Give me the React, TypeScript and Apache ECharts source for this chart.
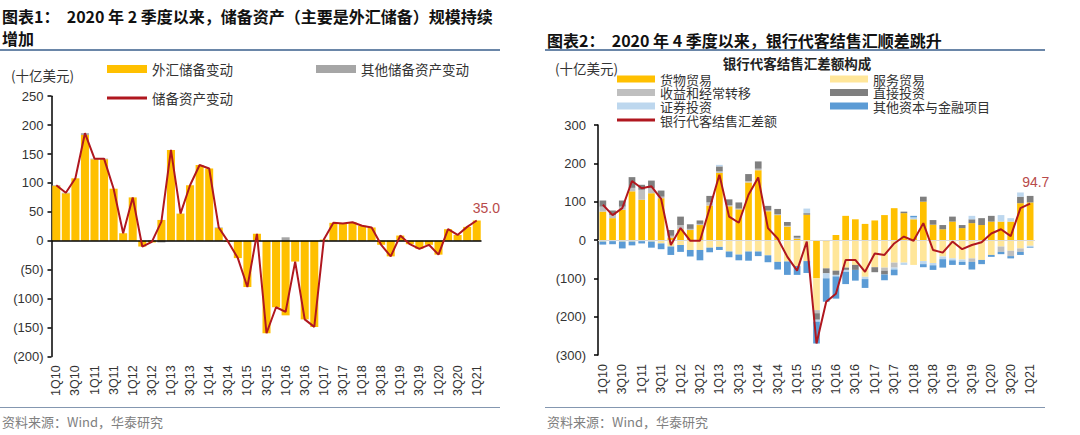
import React, { useEffect, useRef } from "react";
import * as echarts from "echarts";

const quarters = [
  "1Q10","2Q10","3Q10","4Q10","1Q11","2Q11","3Q11","4Q11","1Q12","2Q12","3Q12","4Q12",
  "1Q13","2Q13","3Q13","4Q13","1Q14","2Q14","3Q14","4Q14","1Q15","2Q15","3Q15","4Q15",
  "1Q16","2Q16","3Q16","4Q16","1Q17","2Q17","3Q17","4Q17","1Q18","2Q18","3Q18","4Q18",
  "1Q19","2Q19","3Q19","4Q19","1Q20","2Q20","3Q20","4Q20","1Q21",
];

// Chart 1: reserve assets (billion USD)
const fxReserveChange = [
  95, 82, 108, 183, 141, 141, 90, 13, 75, -10, -3, 36,
  157, 47, 96, 131, 125, 22, -2, -30, -80, 12, -160, -115,
  -129, -36, -136, -149, 2, 31, 30, 32, 26, 23, -7, -27,
  9, -6, -14, -7, -24, 20, 10, 24, 35,
];
const otherReserveChange = [
  1, 1, 0, 3, 1, 1, 0, 0, 0, 0, 1, -3,
  0, 0, 0, 0, 0, 1, 0, 0, 0, 0, 0, 0,
  6, 0, 0, 0, 0, 0, 0, 0, 0, 0, 0, 0,
  0, 0, 0, 0, 0, 0, 0, 0, 0,
];
const reserveAssetChange = [
  96, 83, 108, 186, 142, 142, 90, 13, 75, -10, -2, 33,
  157, 47, 96, 131, 125, 23, -2, -30, -80, 12, -160, -115,
  -123, -36, -136, -149, 2, 31, 30, 32, 26, 23, -7, -27,
  9, -6, -14, -7, -24, 20, 10, 24, 35.0,
];
const yTicks1 = { min: -200, max: 250, interval: 50 };

// Chart 2: bank FX settlement balance components (billion USD)
const goodsTrade = [
  74, 57, 79, 127, 105, 122, 109, 6, 28, 26, 39, 90,
  175, 88, 80, 150, 182, 75, 65, 35, 3, 66, -100, -4,
  13, 63, 54, 42, 51, 65, 83, 70, 54, 100, 40, 28,
  48, 31, 44, 39, 48, 48, 48, 96, 98,
];
const servicesTrade = [
  -4, -3, -4, -4, -3, -4, -9, -17, -13, -26, -26, -20,
  -18, -30, -38, -30, -30, -40, -57, -56, -68, -55, -83, -70,
  -80, -72, -65, -96, -71, -72, -59, -59, -65, -55, -60, -43,
  -48, -51, -48, -52, -39, -17, -28, -22, -15,
];
const incomeTransfers = [
  13, 8, 8, 9, 26, 13, 4, 5, 11, 3, 3, 8,
  4, 3, 2, 4, 4, 2, 2, 2, 3, 0, -8, 0,
  0, 0, 0, 0, 0, -8, -13, 0, 0, 0, 0, 0,
  0, 0, -9, 0, 0, -14, -14, -9, 0,
];
const directInvestment = [
  16, 12, 16, 28, 13, 20, 16, 15, 22, 12, 9, 17,
  13, 15, 16, 18, 19, 12, 14, 10, 5, 4, -17, -13,
  -11, -6, -13, 0, -13, -10, 0, 4, 0, 13, 12, 11,
  13, 8, 10, 18, 15, 0, 0, 17, 17,
];
const portfolioInvestment = [
  0, 0, 0, 0, 0, 0, 0, 0, 0, 0, 0, 0,
  4, 0, 0, 0, 0, 0, 0, 0, 0, 12, -5, -13,
  -4, -5, 0, -6, 0, 0, -5, -6, 5, -8, -6, -7,
  -5, -6, 9, 0, 0, 17, 9, 11, -3,
];
const otherCapital = [
  -8, -8, -18, -10, -6, -16, -15, -22, -18, -17, -27, -12,
  -8, -15, -15, -24, -12, -18, -20, -35, -23, -31, -57, -61,
  -58, -32, -28, -23, 0, -15, -15, 0, 4, -8, -12, -22,
  -12, -8, -20, -11, -5, -6, -6, -8, -2,
];
const bankSettlementBalance = [
  92, 65, 83, 154, 135, 140, 107, -13, 31, -2, -2, 83,
  170, 61, 45, 118, 163, 31, 4, -44, -80, -4, -270, -161,
  -140, -52, -52, -83, -35, -39, -9, 9, -2, 44, -26, -33,
  -4, -24, -13, -6, 17, 28, 10, 83, 94.7,
];
const yTicks2 = { min: -300, max: 300, interval: 100 };

const CJK = '"Noto Sans CJK SC", "Noto Sans", sans-serif';
const NUM = '"Liberation Sans", Arial, sans-serif';
const RED = "#B0171F";

const negFmt = (v: number) => (v < 0 ? `(${-v})` : `${v}`);

function endLabel(arr: number[], offset: number[]) {
  const last = arr[arr.length - 1];
  return {
    show: true,
    formatter: () => last.toFixed(1),
    distance: 0,
    offset,
    color: "#B84A4A",
    fontSize: 14,
    fontFamily: NUM,
  };
}

function legendAt(name: string, left: number, centerY: number, h = 8, w = 38, fs = 13.5) {
  return {
    data: [name],
    left,
    top: centerY - 7,
    padding: 0,
    icon: "rect",
    itemWidth: w,
    itemHeight: h,
    itemGap: 0,
    textStyle: { fontFamily: CJK, fontSize: fs, lineHeight: 14, color: "#333" },
    selectedMode: false,
  };
}

const catAxis = (gridIndex: number) => ({
  type: "category",
  gridIndex,
  data: quarters,
  boundaryGap: true,
  axisLine: { show: false },
  axisTick: { show: false },
  axisLabel: {
    interval: 1,
    rotate: 90,
    margin: 9,
    fontFamily: NUM,
    fontSize: 12.5,
    color: "#333",
  },
});

const valAxis = (gridIndex: number, t: { min: number; max: number; interval: number }, margin: number) => ({
  type: "value",
  gridIndex,
  min: t.min,
  max: t.max,
  interval: t.interval,
  axisLine: { show: true, lineStyle: { color: "#000", width: 1.5 } },
  axisTick: { show: true, inside: false, length: 4, lineStyle: { color: "#000", width: 1.5 } },
  splitLine: { show: false },
  axisLabel: {
    margin,
    formatter: negFmt,
    fontFamily: NUM,
    fontSize: 13,
    color: "#333",
  },
});

export default function App() {
  const ref = useRef<HTMLDivElement>(null);

  useEffect(() => {
    document.body.style.margin = "0";
    if (!ref.current) return;
    const chart = echarts.init(ref.current, undefined, { renderer: "svg" });

    const zeroLine = (color: string, width: number) => ({
      silent: true,
      symbol: "none",
      label: { show: false },
      lineStyle: { color, width, type: "solid" },
      data: [{ yAxis: 0 }],
    });

    const bar2 = (name: string, data: number[], color: string, extra: any = {}) => ({
      name,
      type: "bar",
      xAxisIndex: 1,
      yAxisIndex: 1,
      stack: "bank",
      data,
      barCategoryGap: "31%",
      itemStyle: { color },
      ...extra,
    });

    chart.setOption({
      animation: false,
      backgroundColor: "#fff",
      grid: [
        { left: 51.5, top: 96.2, width: 430, height: 260.2 },
        { left: 598, top: 125, width: 437, height: 230 },
      ],
      legend: [
        legendAt("外汇储备变动", 107, 69, 8, 40),
        legendAt("其他储备资产变动", 316, 69, 8, 40),
        legendAt("储备资产变动", 107, 98, 3, 40),
        legendAt("货物贸易", 617, 79, 7, 38, 13),
        legendAt("服务贸易", 830, 79, 7, 38, 13),
        legendAt("收益和经常转移", 617, 92.5, 7, 38, 13),
        legendAt("直接投资", 830, 92.5, 7, 38, 13),
        legendAt("证券投资", 617, 106, 7, 38, 13),
        legendAt("其他资本与金融项目", 830, 106, 7, 38, 13),
        legendAt("银行代客结售汇差额", 617, 120, 3, 38, 13),
      ],
      xAxis: [catAxis(0), catAxis(1)],
      yAxis: [valAxis(0, yTicks1, 8), valAxis(1, yTicks2, 12)],
      series: [
        {
          name: "外汇储备变动",
          type: "bar",
          xAxisIndex: 0,
          yAxisIndex: 0,
          stack: "res",
          data: fxReserveChange,
          barCategoryGap: "16%",
          itemStyle: { color: "#FFC000" },
          markLine: zeroLine("#000", 1.5),
        },
        {
          name: "其他储备资产变动",
          type: "bar",
          xAxisIndex: 0,
          yAxisIndex: 0,
          stack: "res",
          data: otherReserveChange,
          barCategoryGap: "16%",
          itemStyle: { color: "#A6A6A6" },
        },
        {
          name: "储备资产变动",
          type: "line",
          xAxisIndex: 0,
          yAxisIndex: 0,
          data: reserveAssetChange,
          symbol: "none",
          lineStyle: { color: RED, width: 2 },
          itemStyle: { color: RED },
          endLabel: endLabel(reserveAssetChange, [-4, -13]),
          z: 5,
        },
        bar2("货物贸易", goodsTrade, "#FFC000", { markLine: zeroLine("#D9D9D9", 1) }),
        bar2("服务贸易", servicesTrade, "#FFE699"),
        bar2("收益和经常转移", incomeTransfers, "#BFBFBF"),
        bar2("直接投资", directInvestment, "#7F7F7F"),
        bar2("证券投资", portfolioInvestment, "#BDD7EE"),
        bar2("其他资本与金融项目", otherCapital, "#5B9BD5"),
        {
          name: "银行代客结售汇差额",
          type: "line",
          xAxisIndex: 1,
          yAxisIndex: 1,
          data: bankSettlementBalance,
          symbol: "none",
          lineStyle: { color: RED, width: 2 },
          itemStyle: { color: RED },
          endLabel: endLabel(bankSettlementBalance, [-8, -22]),
          z: 5,
        },
      ],
      graphic: [
        {
          type: "text",
          x: 2,
          y: 16,
          style: {
            text: "图表1：  2020 年 2 季度以来，储备资产（主要是外汇储备）规模持续",
            fontFamily: CJK,
            fontSize: 16,
            fontWeight: "bold",
            fill: "#111",
            verticalAlign: "middle",
          },
        },
        {
          type: "text",
          x: 2,
          y: 38,
          style: { text: "增加", fontFamily: CJK, fontSize: 16, fontWeight: "bold", fill: "#111", verticalAlign: "middle" },
        },
        {
          type: "text",
          x: 547,
          y: 40,
          style: {
            text: "图表2：  2020 年 4 季度以来，银行代客结售汇顺差跳升",
            fontFamily: CJK,
            fontSize: 16,
            fontWeight: "bold",
            fill: "#111",
            verticalAlign: "middle",
          },
        },
        { type: "line", shape: { x1: 0, y1: 50, x2: 500, y2: 50 }, style: { stroke: "#6A86A8", lineWidth: 2 } },
        { type: "line", shape: { x1: 545, y1: 50, x2: 1045, y2: 50 }, style: { stroke: "#6A86A8", lineWidth: 2 } },
        { type: "line", shape: { x1: 0, y1: 407.5, x2: 500, y2: 407.5 }, style: { stroke: "#8497B0", lineWidth: 1 } },
        { type: "line", shape: { x1: 545, y1: 407.5, x2: 1045, y2: 407.5 }, style: { stroke: "#8497B0", lineWidth: 1 } },
        {
          type: "text",
          x: 11,
          y: 75,
          style: { text: "(十亿美元)", fontFamily: CJK, fontSize: 13.5, fill: "#333", verticalAlign: "middle" },
        },
        {
          type: "text",
          x: 555,
          y: 68,
          style: { text: "(十亿美元)", fontFamily: CJK, fontSize: 13.5, fill: "#333", verticalAlign: "middle" },
        },
        {
          type: "text",
          x: 797,
          y: 63,
          style: {
            text: "银行代客结售汇差额构成",
            fontFamily: CJK,
            fontSize: 13.5,
            fontWeight: "bold",
            fill: "#222",
            align: "center",
            verticalAlign: "middle",
          },
        },
        {
          type: "text",
          x: 2,
          y: 421,
          style: { text: "资料来源：Wind，华泰研究", fontFamily: CJK, fontSize: 13, fill: "#808080", verticalAlign: "middle" },
        },
        {
          type: "text",
          x: 547,
          y: 421,
          style: { text: "资料来源：Wind，华泰研究", fontFamily: CJK, fontSize: 13, fill: "#808080", verticalAlign: "middle" },
        },
      ],
    });

    return () => chart.dispose();
  }, []);

  return <div ref={ref} style={{ width: 1080, height: 435 }} />;
}
